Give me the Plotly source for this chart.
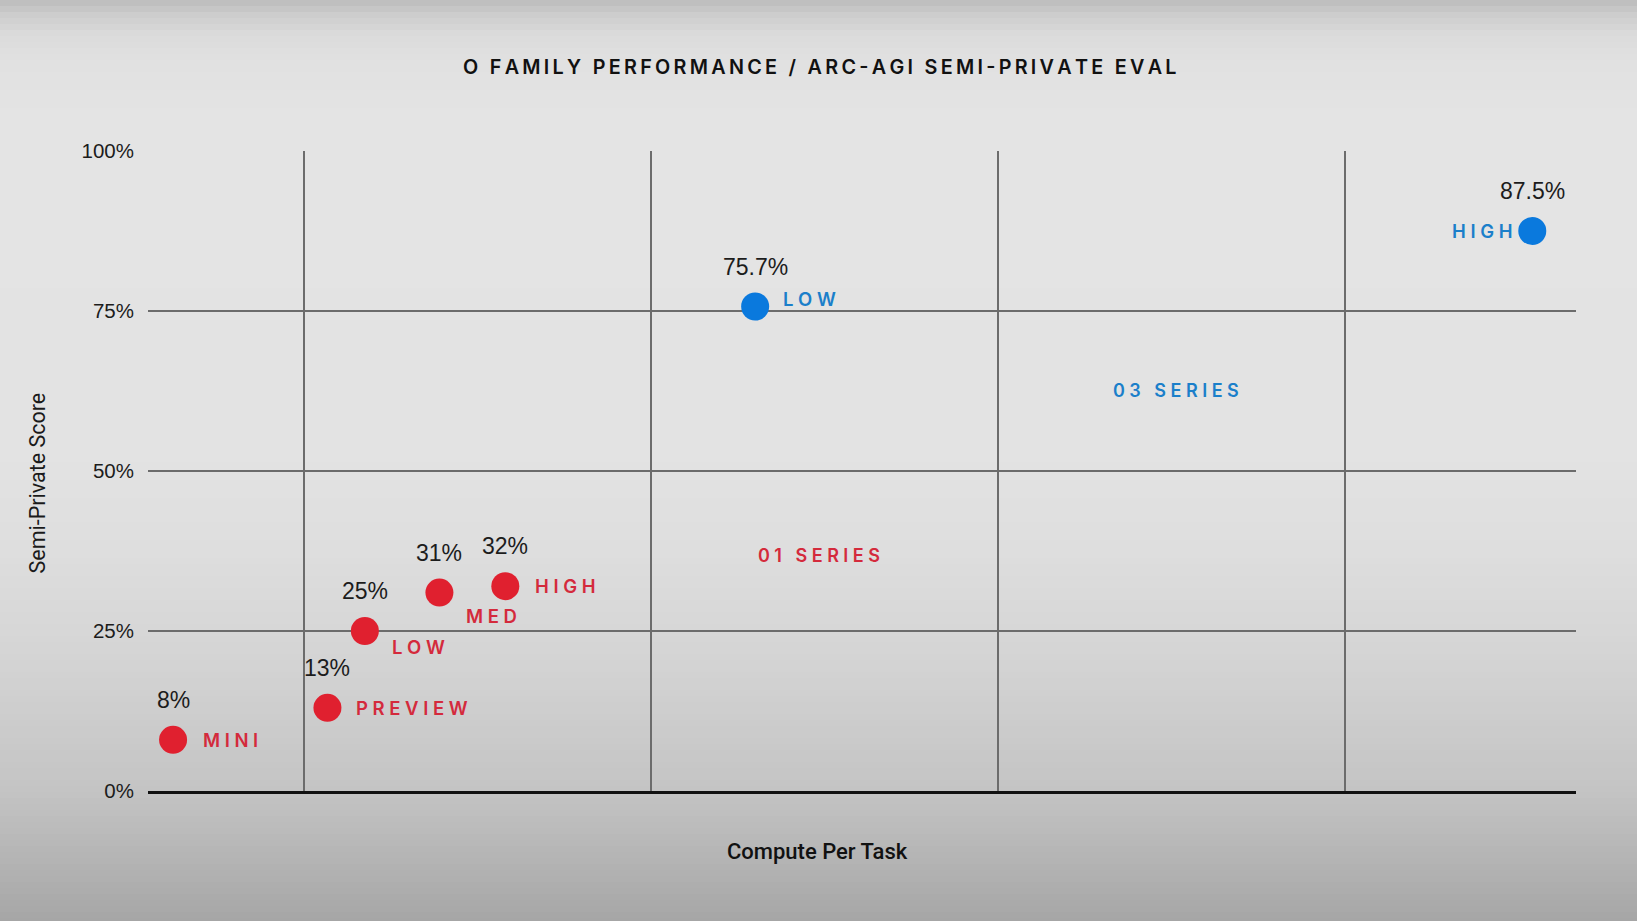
import plotly.graph_objects as go
import numpy as np

# ---------------- data ----------------
o1_names = ["MINI", "PREVIEW", "LOW", "MED", "HIGH"]
o1_cost = [0.42, 1.17, 1.5, 2.46, 3.81]          # compute per task (log axis)
o1_score = [8, 13, 25, 31, 32]
o1_score_text = ["8%", "13%", "25%", "31%", "32%"]

o3_names = ["LOW", "HIGH"]
o3_cost = [20, 3475]
o3_score = [75.7, 87.5]
o3_score_text = ["75.7%", "87.5%"]

y_ticks = [0, 25, 50, 75, 100]
y_tick_labels = ["0%", "25%", "50%", "75%", "100%"]
x_grid = [1, 10, 100, 1000]

title_text = "O FAMILY PERFORMANCE / ARC-AGI SEMI-PRIVATE EVAL"
series_labels = ["01 SERIES", "03 SERIES"]
x_title = "Compute Per Task"
y_title = "Semi-Private Score"

# ---------------- style ----------------
W, H = 1637, 921
ML, MR, MT, MB = 148, 61, 151, 130
PW, PH = W - ML - MR, H - MT - MB

RED = "#e0202f"
RED_TXT = "#d42a3c"
BLUE = "#0a79dd"
BLUE_TXT = "#1b7fca"
GRID = "#6c6c6c"
TXT = "#1c1c1c"

def sp(s, sep="\u2009"):
    return sep.join(list(s))

def py(p):  # pixel y (from top) -> paper y
    return (H - MB - p) / PH

def px(p):  # pixel x -> paper x
    return (p - ML) / PW

# label offsets (pixels) for names: (xshift, yshift, anchor)
o1_name_off = [(28, 0, "left"), (27, 0, "left"), (25, -16, "left"),
               (25, -23, "left"), (28, 0, "left")]
o3_name_off = [(26, 8, "left"), (-18, 0, "right")]

fig = go.Figure()

# background gradient
stops_p = [0, 15, 35, 60, 120, 450, 550, 650, 790, 921]
stops_v = [188, 205, 219, 225, 228, 227, 222, 213, 196, 166]
band = 6
shapes = []
for top in range(0, H, band):
    v = int(round(np.interp(top + band / 2, stops_p, stops_v)))
    shapes.append(dict(type="rect", xref="paper", yref="paper", layer="below",
                       x0=px(-5), x1=px(W + 5), y0=py(top + band + 0.5), y1=py(top),
                       line=dict(width=0), fillcolor=f"rgb({v},{v},{v})"))

fig.add_trace(go.Scatter(x=o1_cost, y=o1_score, mode="markers",
                         marker=dict(size=28, color=RED, line=dict(width=0)),
                         cliponaxis=False, hoverinfo="skip", showlegend=False))
fig.add_trace(go.Scatter(x=o3_cost, y=o3_score, mode="markers",
                         marker=dict(size=28, color=BLUE, line=dict(width=0)),
                         cliponaxis=False, hoverinfo="skip", showlegend=False))

ann = []
score_font = dict(family="Liberation Sans, Arial, sans-serif", size=23, color=TXT)
name_font_r = dict(family="Inter, Roboto, sans-serif", size=18.5, color=RED_TXT, weight=600)
name_font_b = dict(family="Inter, Roboto, sans-serif", size=18.5, color=BLUE_TXT, weight=600)
WIDE = "\u2005"

for xs, ys, st, nm, off, nf in [(o1_cost, o1_score, o1_score_text, o1_names, o1_name_off, name_font_r),
                                 (o3_cost, o3_score, o3_score_text, o3_names, o3_name_off, name_font_b)]:
    for xv, yv, s, n, (dx, dy, anc) in zip(xs, ys, st, nm, off):
        ann.append(dict(x=np.log10(xv), y=yv, xref="x", yref="y", text=s, showarrow=False,
                        xanchor="center", yanchor="middle", yshift=40, font=score_font))
        ann.append(dict(x=np.log10(xv), y=yv, xref="x", yref="y", text=sp(n, WIDE), showarrow=False,
                        xanchor=anc, yanchor="middle", xshift=dx, yshift=dy, font=nf))

series_font_r = dict(family="Inter, Roboto, sans-serif", size=18, color=RED_TXT, weight=600)
series_font_b = dict(family="Inter, Roboto, sans-serif", size=18, color=BLUE_TXT, weight=600)
ann.append(dict(x=px(818.5), y=py(555.4), xref="paper", yref="paper", text=sp(series_labels[0], WIDE),
                showarrow=False, xanchor="center", yanchor="middle", font=series_font_r))
ann.append(dict(x=px(1175.6), y=py(390.5), xref="paper", yref="paper", text=sp(series_labels[1], WIDE),
                showarrow=False, xanchor="center", yanchor="middle", font=series_font_b))

# title and axis titles
ann.append(dict(x=px(819.5), y=py(66.8), xref="paper", yref="paper", text=sp(title_text),
                showarrow=False, xanchor="center", yanchor="middle",
                font=dict(family="Inter, Roboto, sans-serif", size=19.8, color="#111", weight=600)))
ann.append(dict(x=px(817.5), y=py(851), xref="paper", yref="paper", text=x_title,
                showarrow=False, xanchor="center", yanchor="middle",
                font=dict(family="Roboto, Liberation Sans, sans-serif", size=22, color="#111", weight=500)))
ann.append(dict(x=px(36.5), y=py(483), xref="paper", yref="paper", text=y_title, textangle=-90,
                showarrow=False, xanchor="center", yanchor="middle",
                font=dict(family="Roboto, Liberation Sans, sans-serif", size=21.5, color="#1a1a1a")))

fig.update_layout(
    width=W, height=H,
    margin=dict(l=ML, r=MR, t=MT, b=MB, pad=0),
    paper_bgcolor="rgba(0,0,0,0)", plot_bgcolor="rgba(0,0,0,0)",
    shapes=shapes, annotations=ann, showlegend=False,
    xaxis=dict(type="log", range=[-0.449, 3.667], tickvals=x_grid, showticklabels=False,
               showgrid=True, gridcolor=GRID, gridwidth=1.8, zeroline=False,
               showline=True, linecolor="#111", linewidth=2.5, ticks=""),
    yaxis=dict(range=[0, 100], tickvals=y_ticks, ticktext=y_tick_labels,
               showgrid=True, gridcolor=GRID, gridwidth=1.8, zeroline=False,
               showline=False, ticks="", ticklabelstandoff=13,
               tickfont=dict(family="Liberation Sans, Arial, sans-serif", size=20.5, color=TXT)),
)

fig.write_html("out.html", config={"displayModeBar": False},
               post_script="document.body.style.margin='0';document.body.style.overflow='hidden';")
